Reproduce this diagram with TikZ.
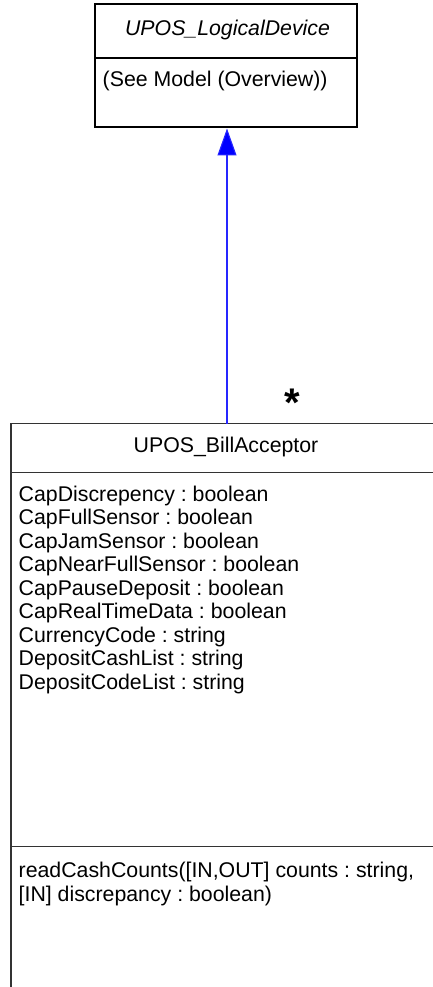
\documentclass[tikz,border=0pt]{standalone}
\usepackage{fontspec}
\setmainfont{Liberation Sans}
\usetikzlibrary{arrows.meta}
\frenchspacing
\begin{document}
\begin{tikzpicture}[x=1pt,y=-1pt,
  txt/.style={inner sep=0pt,font=\fontsize{21.3}{23.5}\selectfont},
  lefttxt/.style={txt,anchor=west,align=left},
  topbox/.style={draw=black,line width=2pt},
  botbox/.style={draw=black!80,line width=1.2pt},
  gen/.style={color=blue!85!white,line width=1.1pt,-{Triangle[length=27pt,width=19pt,fill=blue]}}]
\useasboundingbox (0,0) rectangle (433,987);
\clip (0,0) rectangle (433,987);
% top class
\node[topbox,minimum width=262pt,minimum height=123pt,inner sep=0pt] (ld) at (226,66) {};
\draw[topbox] (ld.west |- 0,58) -- (ld.east |- 0,58);
\node[txt,font=\fontsize{21.3}{23.5}\itshape] (ldname) at (227.5,30) {UPOS\_LogicalDevice};
\node[lefttxt] (ldattr) at (102.5,81) {(See Model (Overview))};
% bottom class
\coordinate (batl) at (11,423.5);
\node[inner sep=0pt,minimum width=0pt] (ba) at (227,423.5) {};
\draw[botbox] (batl |- 0,1000) -- (batl) -- (460,423.5);
\draw[botbox] (11,472.7) -- (460,472.7);
\draw[botbox] (11,846.7) -- (460,846.7);
\node[txt] (baname) at (226,447) {UPOS\_BillAcceptor};
\node[lefttxt,anchor=north west] (baattr) at (18.5,485.5) {CapDiscrepency : boolean\\CapFullSensor : boolean\\CapJamSensor : boolean\\CapNearFullSensor : boolean\\CapPauseDeposit : boolean\\CapRealTimeData : boolean\\CurrencyCode : string\\DepositCashList : string\\DepositCodeList : string};
\node[lefttxt,anchor=north west] (baops) at (18.5,862) {readCashCounts([IN,OUT] counts : string,\\{[IN]} discrepancy : boolean)};
% generalization
\draw[gen] (ba.center) -- (ba.center |- ld.south);
\node[inner sep=0pt,font=\fontsize{40}{40}\bfseries\selectfont] (mult) at (292,403) {*};
\end{tikzpicture}
\end{document}
